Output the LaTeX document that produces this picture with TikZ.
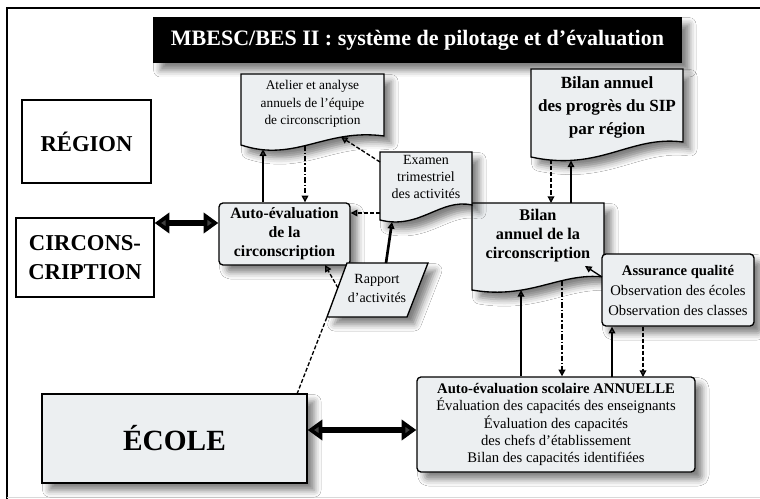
\documentclass[tikz,border=0pt]{standalone}
\usepackage{fontspec}
\setmainfont{Liberation Serif}
\usetikzlibrary{arrows.meta,shadows.blur,calc}
\definecolor{boxfill}{RGB}{236,239,241}
\begin{document}
\begin{tikzpicture}[x=0.75pt,y=-0.75pt,
  shd/.style={blur shadow={shadow xshift=5.5pt,shadow yshift=-5.5pt,shadow blur radius=5pt,shadow opacity=50}},
  plainbox/.style={draw,line width=1pt,fill=white,inner sep=0pt,align=center},
  graybox/.style={draw,line width=1pt,fill=boxfill,shd,inner sep=0pt,align=center},
  rbox/.style={graybox,rounded corners=3pt},
  docbox/.style={draw,line width=1pt,fill=boxfill,shd},
  txt/.style={inner sep=0pt,align=center},
  arrowtip/.style={-{Triangle[length=5pt,width=5pt]}},
  conn/.style={line width=1pt,arrowtip},
  dconn/.style={conn,dash pattern=on 3pt off 1.5pt},
  ddconn/.style={conn,dash pattern=on 4pt off 1.5pt on 1pt off 1.5pt},
  bigarrow/.style={line width=4.5pt,{Triangle[length=11pt,width=15pt]}-{Triangle[length=11pt,width=15pt]}},
]
\useasboundingbox[fill=white] (0,0) rectangle (760,499);
\draw[line width=1pt] (7,499) -- (7,8) -- (760,8);
\draw[line width=0.6pt,black!15] (7,497) -- (760,497);

% title
\node[fill=black,shd,minimum width=396.75pt,minimum height=34.5pt,text=white,
  font=\bfseries\fontsize{16.5}{19}\selectfont] (title) at (417.5,40)
  {MBESC/BES II : système de pilotage et d’évaluation};

% level boxes
\node[plainbox,minimum width=96.75pt,minimum height=62.25pt,
  font=\bfseries\fontsize{17}{20}\selectfont] (region) at (86.5,141.5) {RÉGION};
\node[plainbox,minimum width=103.5pt,minimum height=59.25pt,
  font=\bfseries\fontsize{17}{22}\selectfont] (circ) at (85,257.5) {CIRCONS-\\CRIPTION};
\node[graybox,minimum width=198.75pt,minimum height=66.75pt,
  font=\bfseries\fontsize{22}{26}\selectfont] (ecole) at (174.5,438.5) {ÉCOLE};

% document shapes
\path[docbox] (241,74) -- (384,74) -- (384,136) .. controls (325,128) and (295,163) .. (241,145) -- cycle;
\node[txt,font=\fontsize{10}{13}\selectfont] (atelier) at (312.5,104)
  {Atelier et analyse\\annuels de l’équipe\\de circonscription};

\path[docbox] (531,69) -- (683,69) -- (683,142) .. controls (630,135) and (600,172) .. (531,157) -- cycle;
\node[txt,font=\bfseries\fontsize{12.8}{17.25}\selectfont] (sip) at (607,107)
  {Bilan annuel\\des progrès du SIP\\par région};

\path[docbox] (472,203) -- (604,203) -- (604,277) .. controls (560,272) and (530,300) .. (472,290) -- cycle;
\node[txt,font=\bfseries\fontsize{12.2}{14.25}\selectfont] (bilanc) at (538,236)
  {Bilan\\annuel de la\\circonscription};

\path[docbox] (380,152) -- (472,152) -- (472,205) .. controls (440,198) and (420,230) .. (380,220) -- cycle;
\node[txt,font=\fontsize{10.5}{12.75}\selectfont] (examen) at (426,177)
  {Examen\\trimestriel\\des activités};

% rounded boxes
\node[rbox,minimum width=98.25pt,minimum height=46.5pt,
  font=\bfseries\fontsize{11.8}{14.25}\selectfont] (autoc) at (284.5,234)
  {Auto-évaluation\\de la\\circonscription};
\node[rbox,minimum width=114pt,minimum height=54pt,
  font=\fontsize{11}{15}\selectfont] (assur) at (678,290)
  {\textbf{Assurance qualité}\\Observation des écoles\\Observation des classes};
\node[rbox,minimum width=208.5pt,minimum height=71.25pt,
  font=\fontsize{11}{13.1}\selectfont] (scol) at (556,424.5)
  {\textbf{Auto-évaluation scolaire ANNUELLE}\\Évaluation des capacités des enseignants\\Évaluation des capacités\\des chefs d’établissement\\Bilan des capacités identifiées};

% rapport parallelogram
\path[docbox] (347,263) -- (428,263) -- (407,317) -- (327,317) -- cycle;
\node[txt,font=\fontsize{10.5}{14.25}\selectfont] (rapport) at (377,288) {Rapport\\d’activités};

% attachment points
\coordinate (at1) at (263,149.3);
\coordinate (at2) at (305,145.5);
\coordinate (at3) at (341,137);
\coordinate (ex1) at (380,162);
\coordinate (ex2) at (380,213);
\coordinate (ex3) at (392,222);
\coordinate (rp1) at (386,263);
\coordinate (rp2) at (327,317);
\coordinate (rp3) at (338,288);
\coordinate (ec1) at (297,394);
\coordinate (ac1) at (325,265);
\coordinate (sp1) at (551,160.5);
\coordinate (sp2) at (571,160.5);
\coordinate (bt1) at (551,203);
\coordinate (bt2) at (571,203);
\coordinate (bc1) at (521,290);
\coordinate (bc2) at (562,281);
\coordinate (bc3) at (585,266);
\coordinate (as1) at (602,277);
\coordinate (sc1) at (612,377);
\coordinate (sc2) at (643,377);
\coordinate (ya) at (0,223);
\coordinate (yb) at (0,430);

% connectors
\draw[bigarrow] (circ.east |- ya) -- (autoc.west |- ya);
\draw[bigarrow] (ecole.east |- yb) -- (scol.west |- yb);

\draw[conn] (autoc.north -| at1) -- (at1);
\draw[ddconn] (at2) -- (autoc.north -| at2);
\draw[dconn] (ex1) -- (at3);
\draw[dconn] (ex2) -- (autoc.east |- ex2);
\draw[conn,line width=2pt] (rp1) -- (ex3);
\draw[line width=1pt,dash pattern=on 3pt off 1.5pt] (ec1) -- (rp2);
\draw[dconn] (rp3) -- (ac1);

\draw[conn] (bt2) -- (sp2);
\draw[dconn] (sp1) -- (bt1);
\draw[conn,line width=2pt] (scol.north -| bc1) -- (bc1);
\draw[ddconn,line width=2pt] (bc2) -- (scol.north -| bc2);
\draw[conn] (as1) -- (bc3);
\draw[conn] (sc1) -- (assur.south -| sc1);
\draw[dconn] (assur.south -| sc2) -- (sc2);
\end{tikzpicture}
\end{document}
